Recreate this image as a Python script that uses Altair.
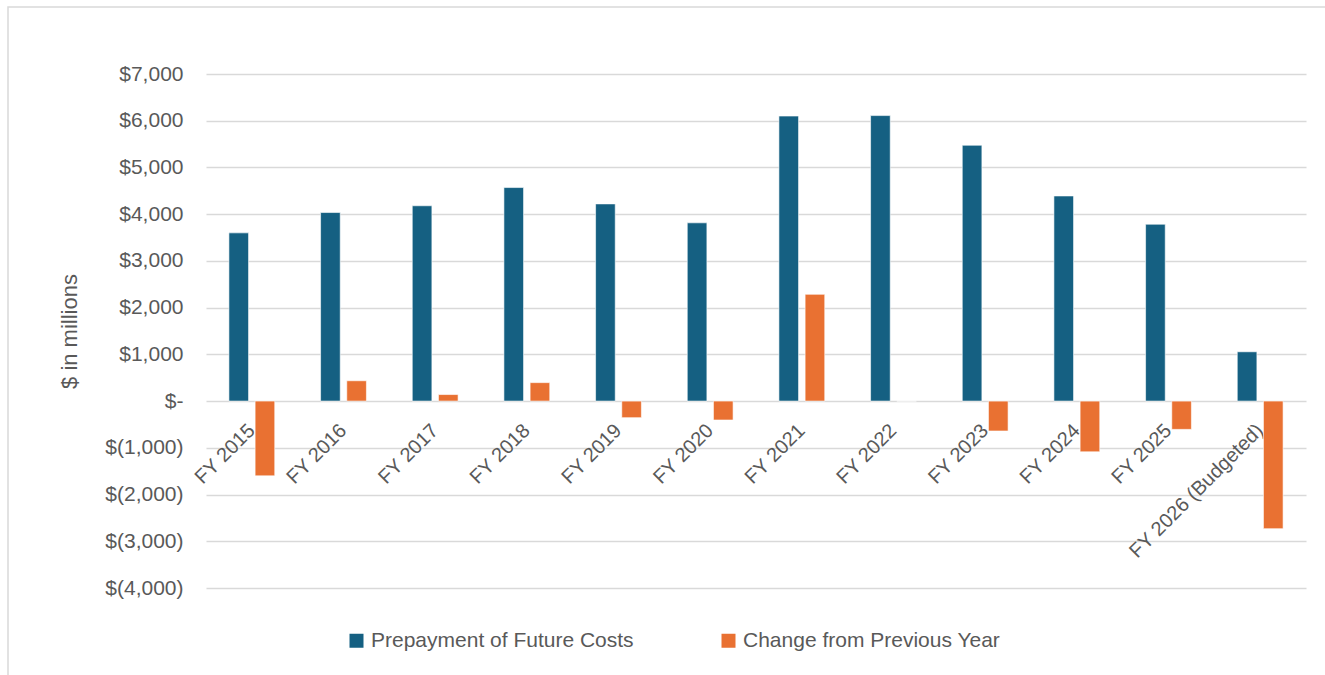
import altair as alt
import pandas as pd

categories = ["FY 2015", "FY 2016", "FY 2017", "FY 2018", "FY 2019", "FY 2020",
              "FY 2021", "FY 2022", "FY 2023", "FY 2024", "FY 2025", "FY 2026 (Budgeted)"]
prepayment = [3600, 4035, 4180, 4570, 4220, 3815, 6100, 6110, 5475, 4390, 3785, 1055]
change = [-1600, 435, 140, 395, -355, -405, 2285, 0, -640, -1085, -605, -2730]
series = ["Prepayment  of Future  Costs", "Change from Previous Year"]
colors = ["#156082", "#E97132"]
y_ticks = [-4000, -3000, -2000, -1000, 0, 1000, 2000, 3000, 4000, 5000, 6000, 7000]

rows = []
for c, p, d in zip(categories, prepayment, change):
    rows.append({"cat": c, "series": series[0], "value": p})
    rows.append({"cat": c, "series": series[1], "value": d})
df = pd.DataFrame(rows)

W, H = 1100, 514
FONT = "Liberation Sans"
GREY = "#595959"

label_expr = ("datum.value == 0 ? '$-\u00a0\u00a0\u00a0' : (datum.value < 0 ? "
              "'$(' + format(-datum.value, ',') + ')' : '$' + format(datum.value, ',') + '\u00a0')")

bars = alt.Chart(df).mark_bar(stroke="white", strokeWidth=0.6).encode(
    x=alt.X("cat:N", sort=categories,
            scale=alt.Scale(paddingInner=0.5, paddingOuter=0.25),
            axis=alt.Axis(title=None, orient="bottom", offset=-(H * 4000 / 11000),
                          domain=False, ticks=False, grid=False,
                          labelAngle=315, labelAlign="right", labelBaseline="middle",
                          labelPadding=26, labelFontSize=20, labelFont=FONT,
                          labelColor=GREY, labelOverlap=False, labelFlush=False,
                          labelLimit=0)),
    xOffset=alt.XOffset("series:N", sort=series,
                        scale=alt.Scale(paddingInner=0.25, paddingOuter=0)),
    y=alt.Y("value:Q", scale=alt.Scale(domain=[-4000, 7000], nice=False),
            axis=alt.Axis(values=y_ticks, labelExpr=label_expr, title="$ in millions",
                          domain=False, ticks=False, grid=True, gridColor="#d9d9d9",
                          gridWidth=1.3, labelFontSize=21, labelFont=FONT,
                          labelColor=GREY, labelPadding=23, labelLimit=0,
                          titleFontSize=22, titleFont=FONT, titleColor=GREY,
                          titleFontWeight="normal", titleX=-137, titleY=H / 2,
                          titleAngle=270, titleAlign="center", titleBaseline="middle")),
    color=alt.Color("series:N", sort=series,
                    scale=alt.Scale(domain=series, range=colors),
                    legend=alt.Legend(title=None, orient="none", direction="horizontal",
                                      legendX=140, legendY=556,
                                      symbolType="square", symbolSize=196,
                                      symbolStrokeWidth=0, labelFontSize=21,
                                      labelFont=FONT, labelColor=GREY, labelLimit=0,
                                      labelOffset=4, columnPadding=72)),
)

frame = alt.Chart(alt.Data(values=[{}])).mark_rect(
    fillOpacity=0, stroke="#d9d9d9", strokeWidth=1.5
).encode(
    x=alt.value(-198), x2=alt.value(W + 40),
    y=alt.value(-67), y2=alt.value(H + 120),
)

chart = alt.layer(frame, bars).properties(
    width=W, height=H,
    background="white",
    autosize=alt.AutoSizeParams(type="none"),
    padding={"left": 206, "top": 74, "right": 19, "bottom": 87},
).configure_view(stroke=None)

chart.save("out.html", embed_options={"renderer": "svg", "actions": False})
